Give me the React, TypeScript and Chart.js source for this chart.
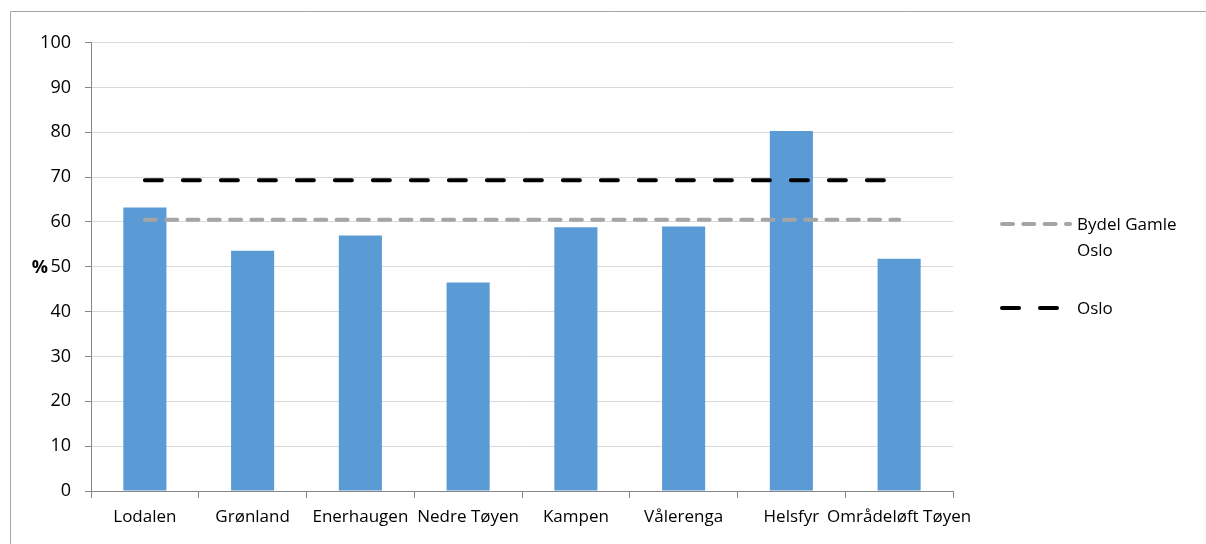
import React, { useEffect, useRef } from "react";
import { Chart, registerables } from "chart.js";

Chart.register(...registerables);

const categories = ["Lodalen", "Grønland", "Enerhaugen", "Nedre Tøyen", "Kampen", "Vålerenga", "Helsfyr", "Områdeløft Tøyen"];
const barValues = [63.2, 53.6, 57.0, 46.5, 58.8, 59.0, 80.3, 51.8];
const bydelValue = 60.5;
const osloValue = 69.3;
const bydelLabel = ["Bydel Gamle", "Oslo"];
const osloLabel = ["Oslo"];
const yTicks = { min: 0, max: 100, step: 10 };

const FONT = "'Open Sans', sans-serif";

const decorPlugin = {
  id: "decor",
  afterDraw(chart: any) {
    const ctx = chart.ctx;
    ctx.save();
    // outer frame
    ctx.strokeStyle = "#a6a6a6";
    ctx.lineWidth = 1;
    ctx.beginPath();
    ctx.moveTo(10.5, 544);
    ctx.lineTo(10.5, 11.5);
    ctx.lineTo(1206, 11.5);
    ctx.stroke();

    // y axis title "%"
    const ys = chart.scales.y;
    ctx.fillStyle = "#000";
    ctx.font = `bold 18px ${FONT}`;
    ctx.textAlign = "right";
    ctx.textBaseline = "middle";
    ctx.fillText("%", 48, ys.getPixelForValue(50) + 1);

    // legend
    const items = [
      { ds: chart.data.datasets[1], y: 224, x2: 1070, lines: bydelLabel },
      { ds: chart.data.datasets[2], y: 308, x2: 1058, lines: osloLabel },
    ];
    items.forEach((it) => {
      ctx.strokeStyle = it.ds.borderColor;
      ctx.lineWidth = it.ds.borderWidth;
      ctx.lineCap = "round";
      ctx.setLineDash(it.ds.borderDash);
      ctx.beginPath();
      ctx.moveTo(1002, it.y);
      ctx.lineTo(it.x2, it.y);
      ctx.stroke();
      ctx.setLineDash([]);
      ctx.fillStyle = "#000";
      ctx.font = `17px ${FONT}`;
      ctx.textAlign = "left";
      ctx.textBaseline = "middle";
      it.lines.forEach((t, i) => ctx.fillText(t, 1077, it.y + 1 + i * 26));
    });
    ctx.restore();
  },
};

export default function App() {
  const ref = useRef<HTMLCanvasElement>(null);
  useEffect(() => {
    if (!ref.current) return;
    const chart = new Chart(ref.current, {
      type: "bar",
      data: {
        labels: categories,
        datasets: [
          {
            type: "bar",
            label: "Andel",
            data: barValues,
            backgroundColor: "#5b9bd5",
            barPercentage: 0.4,
            categoryPercentage: 1,
            order: 2,
          },
          {
            type: "line",
            label: bydelLabel.join(" "),
            data: categories.map(() => bydelValue),
            borderColor: "#a5a5a5",
            borderWidth: 4,
            borderDash: [11, 10.3],
            borderCapStyle: "round",
            pointRadius: 0,
            fill: false,
            order: 1,
          },
          {
            type: "line",
            label: osloLabel.join(" "),
            data: categories.map(() => osloValue),
            borderColor: "#000000",
            borderWidth: 4,
            borderDash: [17, 21],
            borderCapStyle: "round",
            pointRadius: 0,
            fill: false,
            order: 0,
          },
        ] as any,
      },
      options: {
        animation: false,
        responsive: false,
        layout: { padding: { left: 0, right: 253, top: 42.6, bottom: 0 } },
        plugins: { legend: { display: false }, tooltip: { enabled: false } },
        scales: {
          x: {
            offset: true,
            grid: { offset: true, drawOnChartArea: false, color: "#868686", tickLength: 7 },
            border: { color: "#868686" },
            ticks: { color: "#000", font: { family: FONT, size: 17 }, padding: 9, autoSkip: false, maxRotation: 0, minRotation: 0 },
            afterFit(scale: any) {
              scale.height = 53;
            },
          },
          y: {
            min: yTicks.min,
            max: yTicks.max,
            grid: { color: "#d9d9d9", tickColor: "#868686", tickLength: 6 },
            border: { color: "#868686" },
            ticks: { stepSize: yTicks.step, color: "#000", font: { family: FONT, size: 18 }, padding: 14 },
            afterFit(scale: any) {
              scale.width = 91;
            },
          },
        },
      },
      plugins: [decorPlugin],
    });
    return () => chart.destroy();
  }, []);
  return (
    <div style={{ position: "absolute", left: 0, top: 0, width: 1206, height: 544, background: "#fff" }}>
      <canvas ref={ref} width={1206} height={544} style={{ display: "block" }} />
    </div>
  );
}
